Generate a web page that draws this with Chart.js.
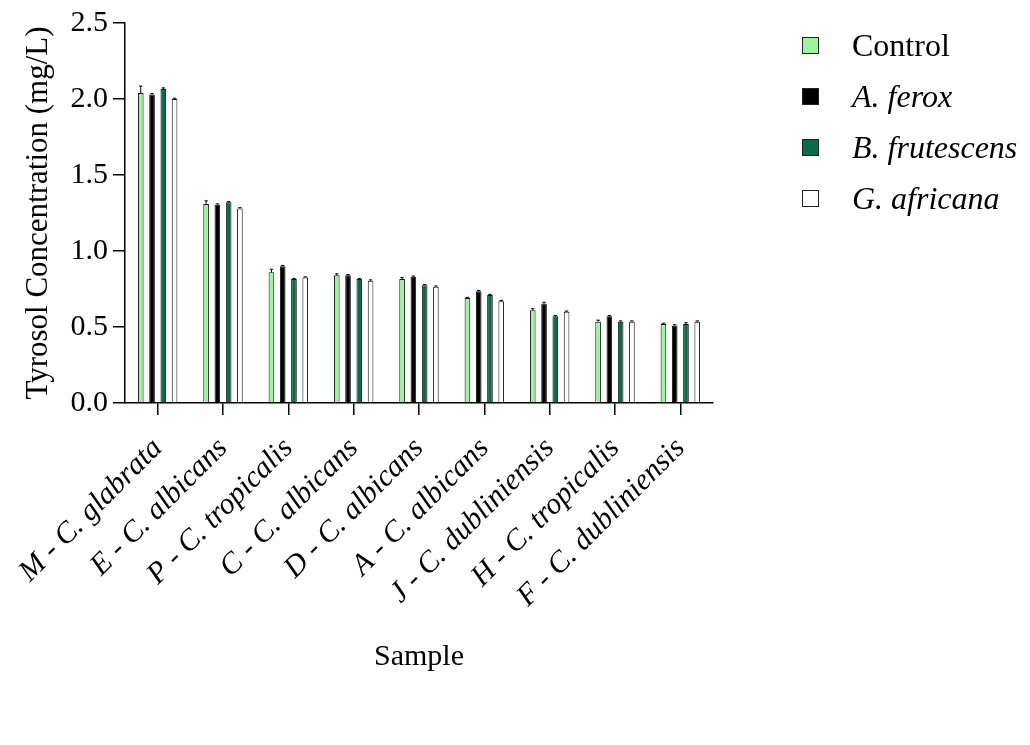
<!DOCTYPE html>
<html lang="en">

<head>
  <meta charset="UTF-8">
  <title>Tyrosol Concentration</title>
  <script src="https://cdn.jsdelivr.net/npm/chart.js"></script>
  <style>
    body { margin: 0; background: #fff; }
    #box { position: relative; width: 1030px; height: 745px; }
    #legenda { position: absolute; left: 802px; top: 20px; font-family: 'Liberation Serif', 'Times New Roman', serif; font-size: 32px; color: #000; }
    .item { height: 51px; display: flex; align-items: center; }
    .quad { width: 17px; height: 17px; border: 1px solid #222; margin-right: 33px; box-sizing: border-box; }
  </style>
</head>

<body>
  <div id="box">
    <canvas id="grafico" width="1030" height="745"></canvas>
    <div id="legenda"></div>
  </div>
</body>

</html>
<script>
  // amostras (eixo X)
  var amostras = ['M - C. glabrata', 'E - C. albicans', 'P - C. tropicalis', 'C - C. albicans', 'D - C. albicans',
    'A - C. albicans', 'J - C. dubliniensis', 'H - C. tropicalis', 'F - C. dubliniensis'];

  // nomes das séries (legenda)
  var series = ['Control', 'A. ferox', 'B. frutescens', 'G. africana'];
  var seriesItalico = [false, true, true, true];

  // valores (mg/L)
  var controle = [2.04, 1.31, 0.86, 0.84, 0.815, 0.69, 0.61, 0.535, 0.52];
  var aFerox = [2.03, 1.305, 0.90, 0.84, 0.83, 0.735, 0.655, 0.57, 0.51];
  var bFrutescens = [2.065, 1.32, 0.815, 0.815, 0.775, 0.71, 0.57, 0.535, 0.52];
  var gAfricana = [2.0, 1.28, 0.825, 0.805, 0.765, 0.67, 0.60, 0.535, 0.535];

  // barras de erro (só para cima)
  var controleErro = [0.045, 0.02, 0.02, 0.01, 0.01, 0.005, 0.01, 0.01, 0.005];
  var aFeroxErro = [0.005, 0.005, 0.005, 0.005, 0.005, 0.005, 0.008, 0.005, 0.005];
  var bFrutescensErro = [0.008, 0.005, 0.005, 0.005, 0.005, 0.005, 0.005, 0.005, 0.008];
  var gAfricanaErro = [0.005, 0.005, 0.005, 0.005, 0.005, 0.005, 0.005, 0.005, 0.005];

  // ticks do eixo Y
  var ticksY = [0, 0.5, 1.0, 1.5, 2.0, 2.5];

  var cores = ['#9CF59C', '#000000', '#0D6B45', '#FFFFFF'];
  var fonte = "'Liberation Serif', 'Times New Roman', serif";

  // plugin simples para desenhar as barras de erro
  var barrasErro = {
    id: 'barrasErro',
    afterDatasetsDraw: function (chart) {
      var ctx = chart.ctx;
      var y = chart.scales.y;
      ctx.save();
      ctx.strokeStyle = '#000';
      ctx.lineWidth = 1;
      chart.data.datasets.forEach(function (ds, d) {
        var meta = chart.getDatasetMeta(d);
        meta.data.forEach(function (bar, i) {
          var topo = y.getPixelForValue(ds.data[i]);
          var fim = y.getPixelForValue(ds.data[i] + ds.erro[i]);
          var meia = bar.width * 0.3;
          ctx.beginPath();
          ctx.moveTo(bar.x, topo);
          ctx.lineTo(bar.x, fim);
          ctx.moveTo(bar.x - meia, fim);
          ctx.lineTo(bar.x + meia, fim);
          ctx.stroke();
        });
      });
      ctx.restore();
    }
  };

  var valores = [controle, aFerox, bFrutescens, gAfricana];
  var erros = [controleErro, aFeroxErro, bFrutescensErro, gAfricanaErro];
  var datasets = [];
  for (var i = 0; i < series.length; i++) {
    datasets.push({
      label: series[i],
      data: valores[i],
      erro: erros[i],
      backgroundColor: cores[i],
      borderColor: '#111',
      borderWidth: 1,
      barPercentage: 0.5,
      categoryPercentage: 0.69
    });
  }

  var ctx = document.getElementById('grafico').getContext('2d');
  var grafico = new Chart(ctx, {
    type: 'bar',
    data: { labels: amostras, datasets: datasets },
    options: {
      responsive: false,
      animation: false,
      layout: { padding: { left: 10, right: 317, top: 20, bottom: 0 } },
      plugins: { legend: { display: false }, tooltip: { enabled: false } },
      scales: {
        x: {
          offset: true,
          grid: { display: true, offset: false, drawOnChartArea: false, drawTicks: true, tickLength: 12, color: '#000', lineWidth: 1.5 },
          border: { display: true, color: '#000', width: 1.5 },
          ticks: {
            color: '#000', minRotation: 45, maxRotation: 45, padding: 16,
            font: { family: fonte, size: 30, style: 'italic' }
          },
          title: { display: true, text: 'Sample', color: '#000', font: { family: fonte, size: 30 }, padding: { top: 0, bottom: 70 } },
          afterFit: function (escala) { escala.height = 342; }
        },
        y: {
          min: 0, max: 2.5,
          afterBuildTicks: function (escala) {
            escala.ticks = ticksY.map(function (v) { return { value: v }; });
          },
          grid: { display: true, drawOnChartArea: false, drawTicks: true, tickLength: 12, color: '#000', lineWidth: 1.5 },
          border: { display: true, color: '#000', width: 1.5 },
          ticks: {
            color: '#000', padding: 5,
            font: { family: fonte, size: 30 },
            callback: function (v) { return Number(v).toFixed(1); }
          },
          title: { display: true, text: 'Tyrosol Concentration (mg/L)', color: '#000', font: { family: fonte, size: 31 }, padding: { top: 10, bottom: 0 } },
          afterFit: function (escala) { escala.width = 115; }
        }
      }
    },
    plugins: [barrasErro]
  });

  // legenda em HTML (para ter itálico nos nomes das espécies)
  var legenda = document.getElementById('legenda');
  for (var j = 0; j < series.length; j++) {
    var item = document.createElement('div');
    item.className = 'item';
    var quad = document.createElement('span');
    quad.className = 'quad';
    quad.style.background = cores[j];
    var txt = document.createElement('span');
    txt.textContent = series[j];
    if (seriesItalico[j]) txt.style.fontStyle = 'italic';
    item.appendChild(quad);
    item.appendChild(txt);
    legenda.appendChild(item);
  }
</script>
